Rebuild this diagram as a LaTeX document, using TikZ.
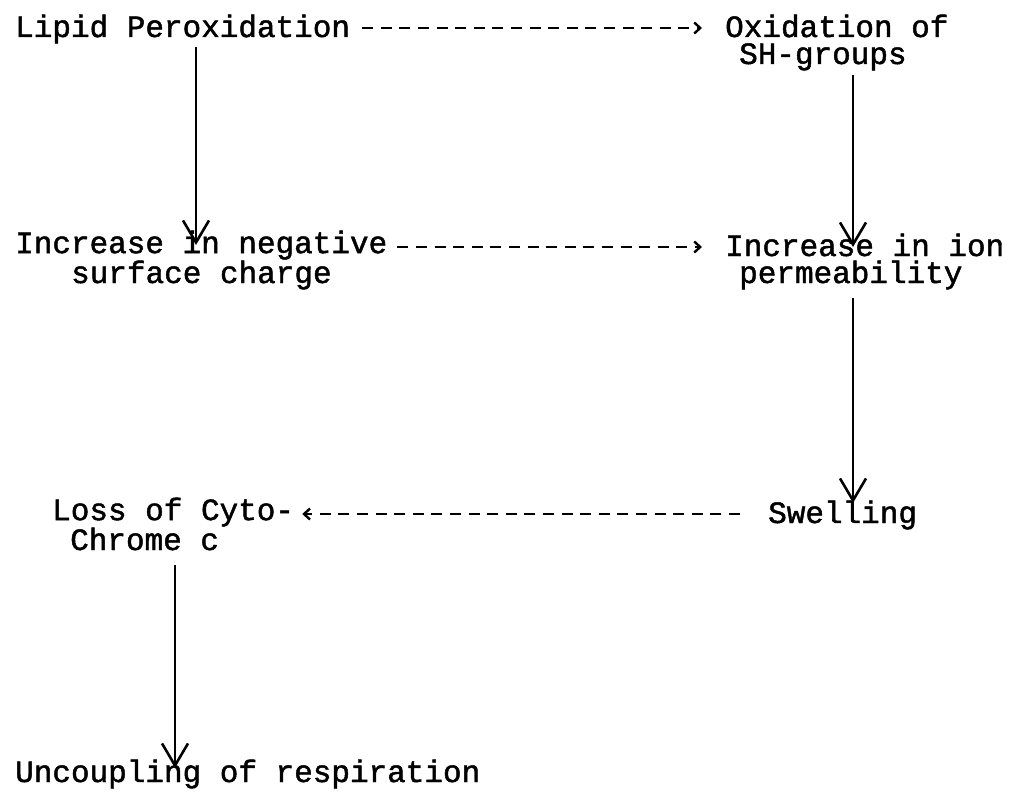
\documentclass[tikz,border=0pt]{standalone}
\usepackage{fontspec}
\newfontfamily\typewr[FakeBold=1.5]{Liberation Mono}
\usetikzlibrary{positioning,arrows.meta}

\begin{document}
\begin{tikzpicture}[x=1pt,y=-1pt,
            txt/.style={anchor=base west,inner sep=0pt,align=left,
                        font=\typewr\fontsize{31}{27}\selectfont},
            arr/.style={-{Straight Barb[length=22pt,width=26pt,line width=2.6pt]},line width=1.8pt},
            dasharr/.style={-{Straight Barb[length=6pt,width=11pt,line width=2.4pt]},line width=2.6pt,
                            dash pattern=on 11pt off 7.6pt}]
            \useasboundingbox (0,0) rectangle (1024,797);
            \node[txt] (lipid)  at (15,37)   {Lipid Peroxidation};
            \node[txt] (oxid)   at (725,64)  {Oxidation of\\\hspace*{14pt}SH-groups};
            \node[txt] (incneg) at (15,283)  {Increase in negative\\\hspace*{56pt}surface charge};
            \node[txt] (incion) at (725,283) {Increase in ion\\\hspace*{14pt}permeability};
            \node[txt] (loss)   at (52,550)  {Loss of Cyto-\\\hspace*{18pt}Chrome c};
            \node[txt] (swell)  at (768,523) {Swelling};
            \node[txt] (uncoup) at (15,782)  {Uncoupling of respiration};
            % typed dashed links
            \draw[dasharr] ([shift={(12pt,9pt)}]lipid.base east)
                        -- ([shift={(-23pt,36pt)}]oxid.base west);
            \draw[dasharr] ([shift={(10pt,36pt)}]incneg.base east)
                        -- ([shift={(-23pt,36pt)}]incion.base west);
            \draw[dasharr] ([shift={(-28pt,9pt)}]swell.base west)
                        -- ([shift={(8pt,36pt)}]loss.base east);
            % solid arrows
            \draw[arr] ([shift={(181pt,-10pt)}]lipid.base west)
                    -- ([shift={(181pt,38pt)}]incneg.base west);
            \draw[arr] ([shift={(128pt,-11pt)}]oxid.base west)
                    -- ([shift={(128pt,36pt)}]incion.base west);
            \draw[arr] ([shift={(128pt,-15pt)}]incion.base west)
                    -- ([shift={(85pt,20pt)}]swell.base west);
            \draw[arr] ([shift={(123pt,-15pt)}]loss.base west)
                    -- ([shift={(160pt,14pt)}]uncoup.base west);
\end{tikzpicture}
\end{document}
